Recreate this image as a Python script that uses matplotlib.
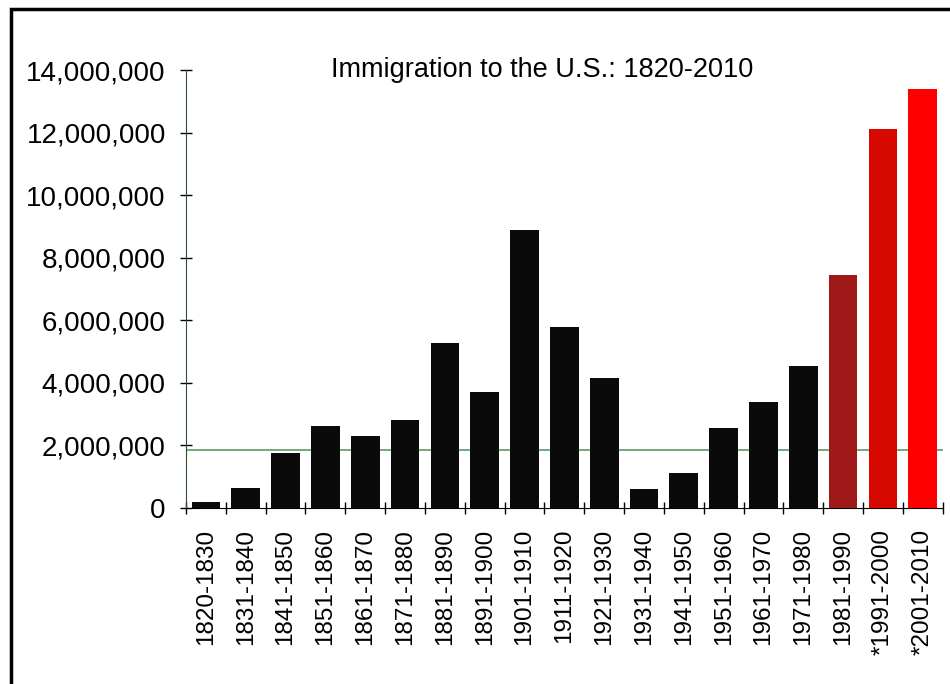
import matplotlib.pyplot as plt
from matplotlib.patches import Rectangle
from matplotlib.ticker import FuncFormatter

# --- dados ---
decadas = ['1820-1830', '1831-1840', '1841-1850', '1851-1860', '1861-1870',
           '1871-1880', '1881-1890', '1891-1900', '1901-1910', '1911-1920',
           '1921-1930', '1931-1940', '1941-1950', '1951-1960', '1961-1970',
           '1971-1980', '1981-1990', '*1991-2000', '*2001-2010']
imigrantes = [180000, 650000, 1750000, 2630000, 2310000, 2810000, 5260000,
              3720000, 8900000, 5770000, 4160000, 600000, 1110000, 2570000,
              3400000, 4550000, 7440000, 12100000, 13380000]
cores = ['#0a0a0a'] * 16 + ['#a01818', '#d70800', '#ff0000']
linha_ref = 1850000
y_ticks = [0, 2000000, 4000000, 6000000, 8000000, 10000000, 12000000, 14000000]

plt.rcParams['font.family'] = ['Liberation Sans', 'DejaVu Sans']

fig = plt.figure(figsize=(9.5, 6.84), dpi=100)
ax = fig.add_axes([186 / 950, 1 - 508 / 684, (942.7 - 186) / 950, (508 - 70) / 684])

x = list(range(len(decadas)))
ax.bar(x, imigrantes, width=0.72, color=cores, zorder=3)
ax.axhline(linha_ref, color='#5f9a5f', lw=1.2, zorder=2)

ax.set_xlim(-0.5, len(decadas) - 0.5)
ax.set_ylim(0, 14000000)
ax.set_yticks(y_ticks)
ax.yaxis.set_major_formatter(FuncFormatter(lambda v, p: f'{int(v):,}'))
ax.tick_params(axis='y', direction='inout', length=9, width=1, labelsize=20, pad=10)

# ticks nos limites das categorias, rótulos no centro
ax.set_xticks([i - 0.5 for i in range(len(decadas) + 1)])
ax.set_xticklabels([])
ax.set_xticks(x, minor=True)
ax.set_xticklabels(decadas, minor=True, rotation=90, fontsize=17.5)
ax.tick_params(axis='x', which='major', direction='inout', length=9, width=1)
ax.tick_params(axis='x', which='minor', length=0, pad=15)

for s in ['top', 'right']:
    ax.spines[s].set_visible(False)
ax.spines['left'].set_color('#2f4f2f')
ax.spines['bottom'].set_color('black')

ax.text(0.47, 1.0, 'Immigration to the U.S.: 1820-2010', transform=ax.transAxes,
        ha='center', va='center', fontsize=19.5)

# moldura em volta da figura
fig.patches.append(Rectangle((11 / 950, -0.01), 1.0, 1 - 9 / 684 + 0.01,
                             transform=fig.transFigure, fill=False,
                             edgecolor='black', lw=2.5))

plt.savefig('out.png', dpi=100)
plt.close()
